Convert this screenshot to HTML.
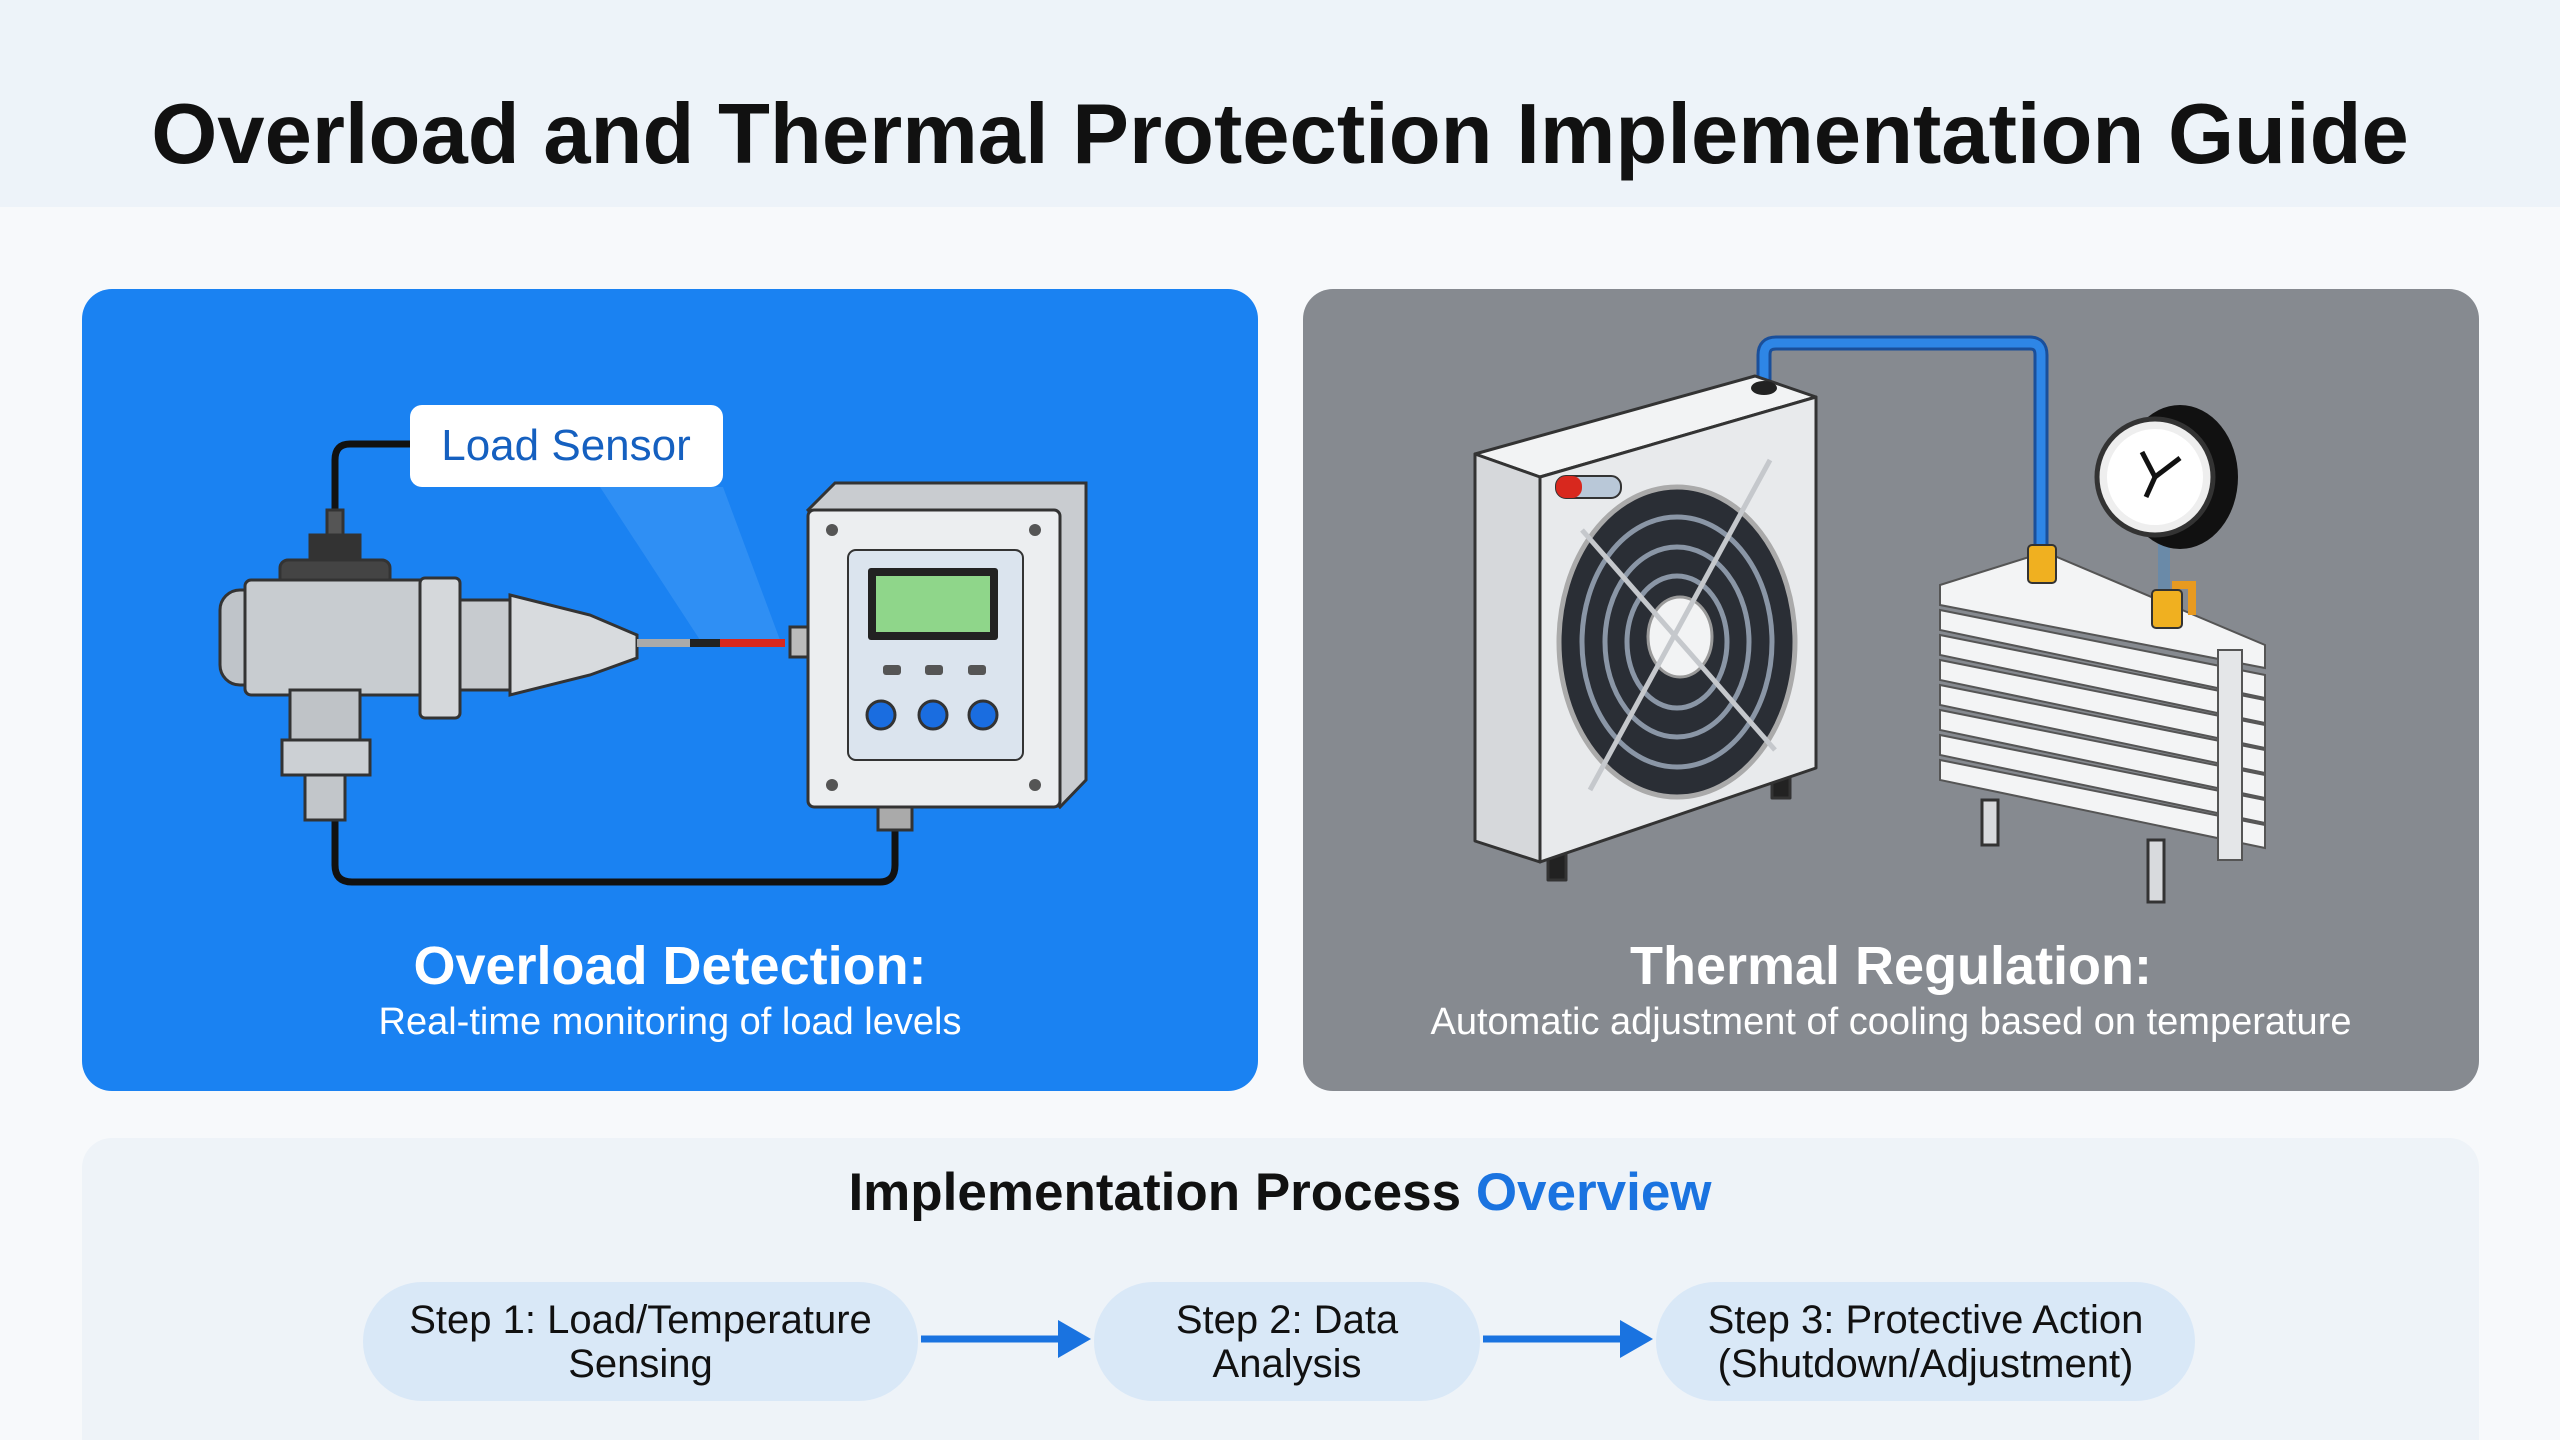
<!DOCTYPE html>
<html><head><meta charset="utf-8"><style>
html,body{margin:0;padding:0}
body{width:2560px;height:1440px;position:relative;background:#f7f9fb;font-family:"Liberation Sans",Arial,sans-serif;overflow:hidden}
.hdr{position:absolute;left:0;top:0;width:2560px;height:207px;background:#edf3f9}
.title{position:absolute;left:0;width:2560px;top:86px;text-align:center;font-weight:bold;font-size:85px;color:#111}
.panel{position:absolute;top:289px;width:1176px;height:802px;border-radius:30px}
.p1{left:82px;background:#1a82f2}
.p2{left:1303px;background:#868a90}
.pt{position:absolute;left:0;width:100%;text-align:center;color:#fff;font-weight:bold;font-size:54px;top:646px}
.ps{position:absolute;left:0;width:100%;text-align:center;color:#fff;font-size:38px;top:712px}
.bot{position:absolute;left:82px;top:1138px;width:2397px;height:302px;background:#eef3f8;border-radius:30px 30px 0 0}
.bt{position:absolute;left:0;width:2560px;top:1162px;text-align:center;font-weight:bold;font-size:53px;color:#111}
.pill{position:absolute;top:1282px;height:119px;border-radius:60px;background:#d9e8f7;text-align:center;font-size:40px;line-height:44px;color:#111;display:flex;align-items:center;justify-content:center}
svg{position:absolute;left:0;top:0}
</style></head><body>
<div class="hdr"></div>
<div class="title">Overload and Thermal Protection Implementation Guide</div>
<div class="panel p1"><div class="pt">Overload Detection:</div><div class="ps">Real-time monitoring of load levels</div></div>
<div class="panel p2"><div class="pt">Thermal Regulation:</div><div class="ps">Automatic adjustment of cooling based on temperature</div></div>
<div class="bot"></div>
<div class="bt">Implementation Process <span style="color:#1a73e0">Overview</span></div>
<div class="pill" style="left:363px;width:555px">Step 1: Load/Temperature<br>Sensing</div>
<div class="pill" style="left:1094px;width:386px">Step 2: Data<br>Analysis</div>
<div class="pill" style="left:1656px;width:539px">Step 3: Protective Action<br>(Shutdown/Adjustment)</div>
<svg width="2560" height="1440" viewBox="0 0 2560 1440">
<g fill="#1a73e0" stroke="#1a73e0">
<line x1="921" y1="1339" x2="1060" y2="1339" stroke-width="7"/><polygon points="1058,1320 1091,1339 1058,1358" stroke="none"/>
<line x1="1483" y1="1339" x2="1622" y2="1339" stroke-width="7"/><polygon points="1620,1320 1653,1339 1620,1358" stroke="none"/>
</g>
<!-- left illustration -->
<polygon points="600,487 723,487 780,640 700,640" fill="#3d97f5" opacity="0.6"/>
<g fill="none" stroke="#111" stroke-width="7" stroke-linejoin="round">
<path d="M410,444 L350,444 Q335,444 335,460 L335,523"/>
<path d="M335,817 L335,865 Q335,882 352,882 L880,882 Q895,882 895,865 L895,825"/>
</g>
<rect x="410" y="405" width="313" height="82" rx="12" fill="#fff"/>
<text x="566" y="460" text-anchor="middle" font-size="44" fill="#1560c0" font-family="Liberation Sans">Load Sensor</text>
<g stroke="#333" stroke-width="3">
<rect x="327" y="510" width="16" height="30" fill="#555"/>
<rect x="310" y="535" width="50" height="30" fill="#333"/>
<rect x="280" y="560" width="110" height="35" rx="8" fill="#444"/>
<rect x="220" y="590" width="55" height="95" rx="20" fill="#bfc4c9"/>
<rect x="245" y="580" width="185" height="115" rx="6" fill="#c8ccd0"/>
<rect x="420" y="578" width="40" height="140" rx="5" fill="#d5d8db"/>
<rect x="460" y="600" width="50" height="90" fill="#c7cbcf"/>
<polygon points="510,595 590,615 637,635 637,658 590,675 510,695" fill="#d8dbde"/>
<rect x="290" y="690" width="70" height="60" fill="#bfc3c7"/>
<rect x="282" y="740" width="88" height="35" fill="#ccd0d4"/>
<rect x="305" y="775" width="40" height="45" fill="#c2c6ca"/>
<rect x="790" y="627" width="20" height="30" fill="#bbb"/>
<rect x="878" y="805" width="34" height="25" fill="#aaa"/>
</g>
<line x1="637" y1="643" x2="690" y2="643" stroke="#aaa" stroke-width="8"/>
<line x1="690" y1="643" x2="720" y2="643" stroke="#222" stroke-width="8"/>
<line x1="720" y1="643" x2="785" y2="643" stroke="#d8281e" stroke-width="8"/>
<polygon points="808,510 835,483 1086,483 1086,780 1060,807" fill="#c9ccd0" stroke="#333" stroke-width="3"/>
<rect x="808" y="510" width="252" height="297" rx="6" fill="#eceef0" stroke="#333" stroke-width="3"/>
<rect x="848" y="550" width="175" height="210" rx="8" fill="#dbe4ee" stroke="#333" stroke-width="2"/>
<rect x="868" y="568" width="130" height="72" rx="3" fill="#222"/>
<rect x="876" y="576" width="114" height="56" fill="#8fd68a"/>
<g fill="#1a6de0" stroke="#333" stroke-width="3"><circle cx="881" cy="715" r="14"/><circle cx="933" cy="715" r="14"/><circle cx="983" cy="715" r="14"/></g>
<g fill="#555"><rect x="883" y="665" width="18" height="10" rx="3"/><rect x="925" y="665" width="18" height="10" rx="3"/><rect x="968" y="665" width="18" height="10" rx="3"/>
<circle cx="832" cy="530" r="6"/><circle cx="1035" cy="530" r="6"/><circle cx="832" cy="785" r="6"/><circle cx="1035" cy="785" r="6"/></g>
<!-- right illustration -->
<path d="M1764,390 L1764,355 Q1764,343 1776,343 L2030,343 Q2041,343 2041,355 L2041,545" fill="none" stroke="#1a4f9a" stroke-width="15"/>
<path d="M1764,390 L1764,355 Q1764,343 1776,343 L2030,343 Q2041,343 2041,355 L2041,545" fill="none" stroke="#2e86e6" stroke-width="9"/>
<g stroke="#333" stroke-width="3" stroke-linejoin="round">
<rect x="1548" y="850" width="18" height="30" fill="#222"/>
<rect x="1772" y="770" width="18" height="28" fill="#222"/>
<polygon points="1475,454 1755,376 1816,397 1540,477" fill="#f2f3f4"/>
<polygon points="1475,454 1540,477 1540,862 1475,841" fill="#d6d8db"/>
<polygon points="1540,477 1816,397 1816,768 1540,862" fill="#e8eaec"/>
</g>
<ellipse cx="1764" cy="388" rx="13" ry="7" fill="#222"/>
<rect x="1556" y="476" width="65" height="22" rx="10" fill="#b9c8d8" stroke="#333" stroke-width="2"/>
<rect x="1556" y="476" width="26" height="22" rx="10" fill="#d8281e"/>
<ellipse cx="1677" cy="642" rx="118" ry="155" fill="#2a2e35" stroke="#aaa" stroke-width="5"/>
<g fill="none" stroke="#8a96a6" stroke-width="5">
<ellipse cx="1677" cy="642" rx="95" ry="125"/><ellipse cx="1677" cy="642" rx="72" ry="95"/><ellipse cx="1677" cy="642" rx="50" ry="66"/>
</g>
<ellipse cx="1680" cy="637" rx="32" ry="40" fill="#f2f3f4" stroke="#999" stroke-width="3"/>
<g stroke="#c5c8cc" stroke-width="5"><line x1="1582" y1="530" x2="1775" y2="750"/><line x1="1770" y1="460" x2="1590" y2="790"/></g>
<g stroke="#333" stroke-width="3">
<rect x="1982" y="800" width="16" height="45" fill="#d8dadd"/>
<rect x="2148" y="840" width="16" height="62" fill="#d8dadd"/>
</g>
<g stroke="#555" stroke-width="2" fill="#f3f4f5">
<polygon points="1940,585 2045,552 2265,645 2265,668 1940,605"/>
<polygon points="1940,610 2265,675 2265,698 1940,630"/>
<polygon points="1940,635 2265,700 2265,723 1940,655"/>
<polygon points="1940,660 2265,725 2265,748 1940,680"/>
<polygon points="1940,685 2265,750 2265,773 1940,705"/>
<polygon points="1940,710 2265,775 2265,798 1940,730"/>
<polygon points="1940,735 2265,800 2265,823 1940,755"/>
<polygon points="1940,760 2265,825 2265,848 1940,780"/>
<rect x="2218" y="650" width="24" height="210" fill="#e4e6e8"/>
</g>
<rect x="2028" y="545" width="28" height="38" rx="4" fill="#f0b020" stroke="#333" stroke-width="2"/>
<rect x="2158" y="530" width="12" height="60" fill="#6a8aa8"/>
<path d="M2172,585 L2192,585 L2192,615" fill="none" stroke="#e89a20" stroke-width="8"/>
<rect x="2152" y="590" width="30" height="38" rx="4" fill="#f0b020" stroke="#333" stroke-width="2"/>
<ellipse cx="2180" cy="477" rx="58" ry="72" fill="#111"/>
<circle cx="2155" cy="477" r="58" fill="#eee" stroke="#333" stroke-width="5"/>
<circle cx="2155" cy="477" r="48" fill="#fff"/>
<g stroke="#111" stroke-width="5"><line x1="2155" y1="477" x2="2142" y2="452"/><line x1="2155" y1="477" x2="2180" y2="458"/><line x1="2155" y1="477" x2="2146" y2="497"/></g>
</svg>
</body></html>
